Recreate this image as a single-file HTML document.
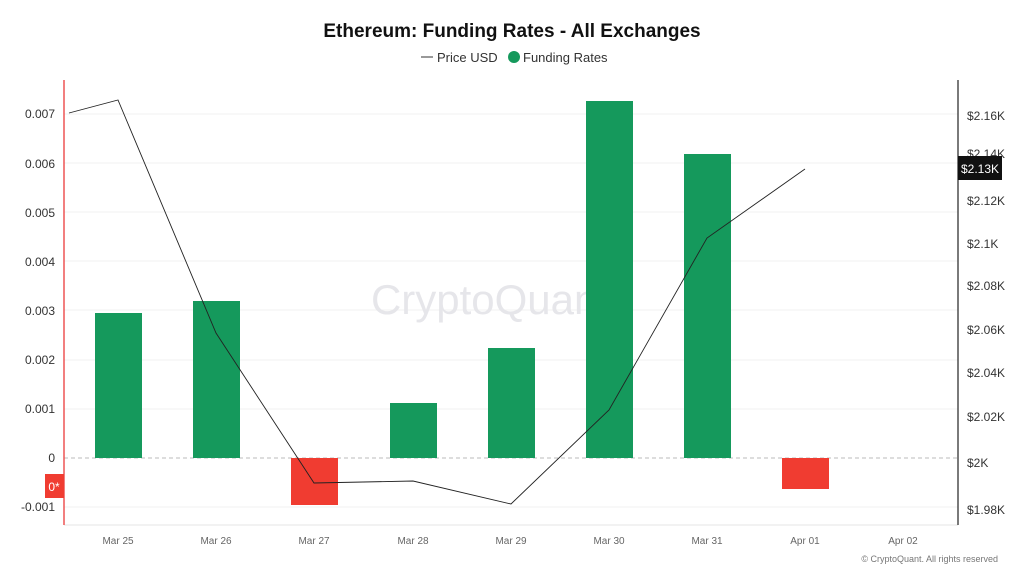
<!DOCTYPE html>
<html><head><style>
body{margin:0;background:#fff;font-family:"Liberation Sans",sans-serif;}
</style></head><body>
<svg width="1024" height="576" xmlns="http://www.w3.org/2000/svg" font-family="Liberation Sans, sans-serif">
<rect width="1024" height="576" fill="#fff"/>
<text x="512" y="37" text-anchor="middle" font-size="19" font-weight="bold" fill="#111">Ethereum: Funding Rates - All Exchanges</text>
<line x1="421" y1="57" x2="433" y2="57" stroke="#333" stroke-width="1"/>
<text x="437" y="62" font-size="13" fill="#333">Price USD</text>
<circle cx="514" cy="57" r="6" fill="#15995c"/>
<text x="523" y="62" font-size="13" fill="#333">Funding Rates</text>
<g stroke="#f0f0f0" stroke-width="1">
<line x1="64" y1="114" x2="958" y2="114"/><line x1="64" y1="163" x2="958" y2="163"/>
<line x1="64" y1="212" x2="958" y2="212"/><line x1="64" y1="261" x2="958" y2="261"/>
<line x1="64" y1="310" x2="958" y2="310"/><line x1="64" y1="360" x2="958" y2="360"/>
<line x1="64" y1="409" x2="958" y2="409"/><line x1="64" y1="507" x2="958" y2="507"/>
<line x1="64" y1="525" x2="958" y2="525" stroke="#e6e6e6"/>
</g>
<text x="490" y="314" text-anchor="middle" font-size="42" fill="#e6e6ea">CryptoQuant</text>
<line x1="64" y1="458" x2="958" y2="458" stroke="#bbb" stroke-dasharray="4,3"/>
<g fill="#15995c">
<rect x="95" y="313" width="47" height="145"/><rect x="193" y="301" width="47" height="157"/>
<rect x="390" y="403" width="47" height="55"/><rect x="488" y="348" width="47" height="110"/>
<rect x="586" y="101" width="47" height="357"/><rect x="684" y="154" width="47" height="304"/>
</g>
<g fill="#f03c31">
<rect x="291" y="458" width="47" height="47"/><rect x="782" y="458" width="47" height="31"/>
</g>
<polyline fill="none" stroke="#222" stroke-width="0.9" points="69,113 118,100 216,333 314,483 413,481 511,504 609,410 707,238 805,169"/>
<line x1="64" y1="80" x2="64" y2="525" stroke="#e55" stroke-width="1.5"/>
<line x1="958" y1="80" x2="958" y2="525" stroke="#222" stroke-width="1.2"/>
<g font-size="12" fill="#333" text-anchor="end">
<text x="55" y="118">0.007</text><text x="55" y="168">0.006</text><text x="55" y="217">0.005</text>
<text x="55" y="266">0.004</text><text x="55" y="315">0.003</text><text x="55" y="364">0.002</text>
<text x="55" y="413">0.001</text><text x="55" y="462">0</text><text x="55" y="511">-0.001</text>
</g>
<rect x="45" y="474" width="19" height="24" fill="#f03c31"/>
<text x="54" y="491" text-anchor="middle" font-size="12" fill="#fff">0*</text>
<g font-size="12" fill="#333">
<text x="967" y="120">$2.16K</text><text x="967" y="158">$2.14K</text><text x="967" y="205">$2.12K</text>
<text x="967" y="248">$2.1K</text><text x="967" y="290">$2.08K</text><text x="967" y="334">$2.06K</text>
<text x="967" y="377">$2.04K</text><text x="967" y="421">$2.02K</text><text x="967" y="467">$2K</text>
<text x="967" y="514">$1.98K</text>
</g>
<rect x="958" y="156" width="44" height="24" fill="#111"/>
<text x="980" y="173" text-anchor="middle" font-size="12" fill="#fff">$2.13K</text>
<g font-size="10" fill="#666" text-anchor="middle">
<text x="118" y="544">Mar 25</text><text x="216" y="544">Mar 26</text><text x="314" y="544">Mar 27</text>
<text x="413" y="544">Mar 28</text><text x="511" y="544">Mar 29</text><text x="609" y="544">Mar 30</text>
<text x="707" y="544">Mar 31</text><text x="805" y="544">Apr 01</text><text x="903" y="544">Apr 02</text>
</g>
<text x="998" y="562" text-anchor="end" font-size="9" fill="#777">© CryptoQuant. All rights reserved</text>
</svg>
</body></html>
